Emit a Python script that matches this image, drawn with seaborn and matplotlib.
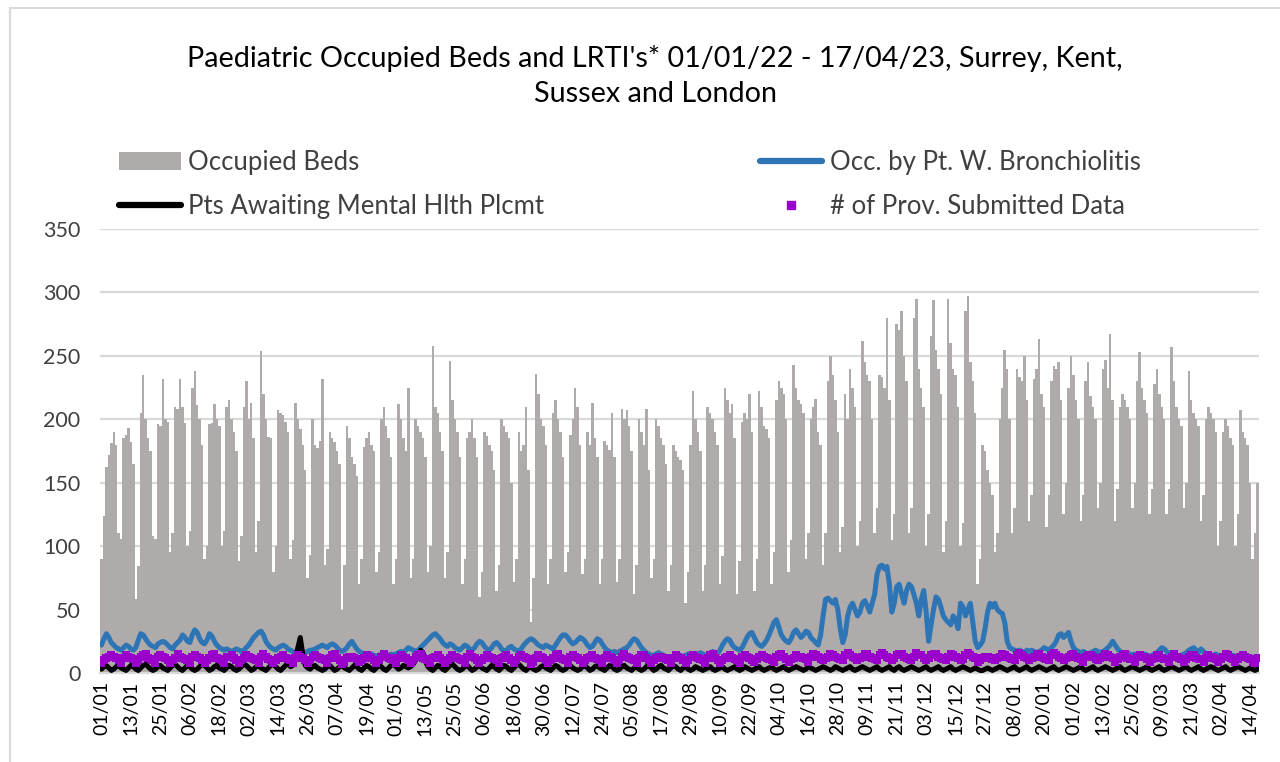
import numpy as np
import pandas as pd
import matplotlib
matplotlib.use("Agg")
import matplotlib.pyplot as plt
from matplotlib.patches import Patch
from matplotlib.lines import Line2D
import seaborn as sns

# ---------------- data (daily, 01/01/22 .. 17/04/23) ----------------
occupied_beds = [
    90, 124, 162, 172, 181, 190, 180,
    110, 106, 185, 188, 193, 182, 165,
    58, 84, 205, 235, 200, 185, 175,
    108, 106, 196, 195, 232, 200, 198,
    95, 110, 210, 208, 232, 210, 197,
    100, 112, 225, 238, 211, 200, 180,
    90, 100, 196, 197, 212, 200, 195,
    100, 112, 210, 215, 200, 190, 175,
    88, 108, 210, 230, 200, 213, 185,
    95, 120, 254, 220, 200, 186, 185,
    80, 100, 207, 205, 203, 198, 190,
    90, 105, 213, 200, 192, 180, 160,
    75, 93, 200, 180, 177, 183, 232,
    85, 98, 190, 185, 182, 175, 165,
    50, 85, 195, 185, 170, 165, 155,
    70, 90, 178, 185, 190, 180, 175,
    80, 95, 200, 210, 195, 185, 170,
    70, 90, 212, 200, 185, 175, 225,
    75, 90, 200, 195, 190, 185, 170,
    80, 100, 258, 210, 205, 190, 175,
    75, 95, 246, 215, 200, 190, 170,
    70, 90, 185, 190, 200, 185, 170,
    60, 80, 190, 187, 180, 175, 160,
    65, 85, 200, 195, 190, 185, 150,
    72, 90, 190, 175, 180, 210, 160,
    40, 75, 236, 220, 200, 195, 180,
    70, 90, 205, 215, 200, 190, 170,
    80, 95, 188, 200, 225, 210, 180,
    78, 90, 190, 180, 213, 185, 170,
    70, 90, 183, 180, 176, 205, 170,
    72, 90, 208, 200, 207, 195, 175,
    62, 85, 200, 190, 180, 208, 160,
    75, 90, 200, 195, 185, 180, 165,
    65, 85, 180, 175, 170, 168, 160,
    55, 80, 180, 222, 200, 190, 175,
    65, 85, 210, 205, 200, 190, 180,
    70, 92, 225, 215, 205, 212, 185,
    62, 88, 198, 205, 200, 220, 190,
    65, 90, 222, 210, 195, 192, 185,
    70, 95, 215, 230, 225, 220, 200,
    80, 105, 243, 225, 215, 212, 205,
    90, 110, 200, 210, 216, 190, 180,
    85, 110, 230, 250, 235, 215, 190,
    95, 115, 220, 200, 240, 225, 210,
    100, 120, 262, 245, 235, 230, 200,
    110, 130, 235, 233, 225, 280, 215,
    105, 125, 275, 270, 285, 250, 230,
    110, 130, 280, 295, 240, 225, 210,
    100, 125, 266, 294, 255, 240, 220,
    95, 120, 295, 260, 240, 235, 210,
    100, 118, 285, 297, 245, 230, 205,
    70, 90, 180, 175, 160, 150, 140,
    95, 110, 200, 225, 255, 240, 200,
    110, 130, 240, 233, 230, 250, 215,
    120, 140, 232, 240, 263, 220, 210,
    115, 140, 230, 242, 240, 245, 215,
    125, 150, 225, 250, 235, 215, 200,
    120, 140, 230, 245, 218, 210, 200,
    130, 150, 240, 247, 225, 267, 215,
    120, 145, 210, 220, 215, 210, 200,
    130, 150, 230, 253, 225, 215, 205,
    125, 145, 228, 240, 220, 210, 200,
    125, 145, 257, 230, 210, 200, 195,
    130, 150, 238, 215, 205, 200, 195,
    120, 140, 200, 210, 205, 200, 190,
    100, 120, 190, 200, 195, 185, 180,
    100, 125, 207, 190, 185, 180, 150,
    90, 110, 150,
]

bronchiolitis = [
    22, 27, 31, 28, 24, 22, 20,
    19, 18, 20, 22, 21, 19, 18,
    20, 26, 31, 30, 27, 24, 22,
    21, 20, 23, 24, 25, 24, 22,
    20, 19, 22, 24, 26, 30, 28,
    25, 24, 30, 34, 32, 27, 24,
    23, 26, 31, 29, 25, 22, 20,
    19, 18, 19, 18, 17, 18, 19,
    18, 17, 18, 20, 22, 25, 28,
    30, 32, 33, 30, 25, 22, 20,
    19, 18, 20, 21, 22, 21, 19,
    18, 17, 16, 15, 14, 15, 16,
    17, 18, 18, 19, 20, 21, 22,
    21, 20, 22, 23, 22, 20, 18,
    17, 18, 20, 23, 25, 22, 19,
    17, 16, 15, 14, 14, 15, 14,
    13, 14, 15, 14, 13, 14, 15,
    14, 15, 16, 17, 16, 18, 20,
    19, 18, 17, 18, 20, 22, 24,
    26, 28, 30, 31, 29, 27, 24,
    22, 21, 23, 22, 20, 19, 18,
    20, 22, 21, 19, 18, 20, 23,
    25, 24, 21, 19, 18, 20, 23,
    24, 22, 19, 17, 18, 20, 21,
    19, 18, 17, 19, 22, 24, 26,
    27, 26, 24, 22, 21, 20, 22,
    21, 20, 19, 22, 25, 28, 30,
    30, 28, 25, 23, 24, 26, 28,
    27, 25, 22, 20, 21, 24, 27,
    26, 23, 20, 18, 17, 16, 17,
    16, 17, 18, 19, 20, 22, 25,
    27, 26, 23, 20, 18, 16, 15,
    14, 14, 15, 16, 15, 14, 13,
    13, 12, 13, 14, 13, 12, 13,
    14, 15, 14, 13, 14, 15, 16,
    15, 14, 13, 15, 17, 16, 15,
    18, 22, 25, 27, 26, 22, 20,
    19, 18, 20, 24, 28, 31, 32,
    28, 24, 22, 21, 23, 26, 30,
    35, 40, 42, 36, 30, 27, 25,
    24, 27, 32, 34, 31, 28, 30,
    33, 32, 28, 26, 24, 22, 30,
    45, 58, 59, 57, 55, 58, 50,
    35, 24, 30, 45, 52, 55, 50,
    45, 48, 55, 57, 53, 48, 55,
    62, 78, 84, 85, 82, 84, 70,
    48, 55, 68, 70, 62, 55, 65,
    70, 68, 62, 55, 45, 58, 65,
    48, 25, 38, 50, 60, 58, 52,
    45, 42, 40, 38, 45, 42, 35,
    55, 52, 45, 50, 55, 40, 25,
    20, 22, 25, 35, 48, 55, 52,
    55, 50, 48, 47, 40, 25, 20,
    19, 18, 17, 18, 17, 16, 18,
    17, 18, 17, 16, 17, 18, 20,
    19, 18, 20, 22, 25, 30, 31,
    28, 30, 32, 25, 20, 18, 17,
    16, 17, 16, 15, 16, 17, 18,
    17, 16, 17, 18, 20, 22, 25,
    22, 19, 17, 16, 15, 16, 15,
    14, 15, 14, 13, 14, 15, 14,
    13, 14, 15, 16, 18, 20, 19,
    17, 15, 14, 15, 14, 13, 14,
    15, 16, 18, 19, 20, 18, 16,
    19, 17, 15, 14, 13, 14, 15,
    14, 13, 14, 13, 12, 13, 14,
    13, 12, 13, 14, 12, 13, 12,
    12, 13, 12,
]

mental_health = [
    3, 5, 6, 4, 2, 3, 5,
    6, 4, 3, 2, 4, 6, 5,
    3, 2, 4, 6, 7, 5, 3,
    2, 3, 5, 6, 4, 3, 2,
    4, 6, 7, 5, 3, 2, 4,
    6, 5, 3, 2, 3, 5, 7,
    6, 4, 2, 3, 5, 6, 4,
    3, 2, 4, 6, 5, 3, 2,
    3, 5, 7, 6, 4, 2, 3,
    5, 6, 4, 3, 2, 4, 6,
    7, 5, 3, 2, 4, 6, 8,
    5, 6, 10, 20, 28, 15, 6,
    4, 3, 5, 6, 4, 3, 2,
    3, 5, 6, 4, 2, 3, 5,
    6, 4, 3, 2, 4, 6, 5,
    3, 2, 4, 6, 5, 3, 2,
    4, 6, 5, 3, 2, 4, 6,
    7, 5, 3, 4, 6, 5, 4,
    5, 7, 10, 15, 18, 16, 9,
    5, 3, 2, 4, 6, 5, 3,
    2, 4, 6, 7, 5, 3, 2,
    3, 5, 6, 4, 2, 3, 5,
    6, 4, 3, 2, 4, 6, 5,
    3, 2, 4, 6, 5, 3, 2,
    4, 6, 7, 5, 3, 2, 4,
    5, 3, 2, 3, 5, 6, 4,
    3, 2, 4, 6, 5, 3, 2,
    3, 5, 6, 4, 3, 2, 3,
    5, 6, 4, 2, 3, 5, 6,
    4, 3, 2, 4, 6, 5, 3,
    2, 3, 5, 6, 4, 3, 2,
    4, 5, 3, 2, 3, 5, 6,
    4, 2, 3, 5, 6, 4, 3,
    2, 4, 6, 5, 3, 2, 4,
    5, 3, 2, 3, 5, 4, 3,
    2, 3, 4, 5, 3, 2, 3,
    4, 5, 3, 2, 3, 4, 5,
    3, 2, 3, 5, 4, 3, 2,
    3, 4, 5, 3, 2, 3, 4,
    5, 3, 2, 3, 4, 5, 3,
    2, 3, 4, 5, 4, 3, 2,
    3, 5, 4, 3, 2, 3, 4,
    5, 4, 3, 2, 3, 5, 4,
    3, 2, 3, 4, 5, 3, 2,
    3, 4, 5, 4, 3, 2, 3,
    4, 5, 3, 2, 3, 4, 5,
    3, 2, 4, 5, 3, 2, 3,
    4, 5, 4, 3, 2, 3, 4,
    5, 3, 2, 3, 4, 5, 3,
    2, 3, 4, 5, 3, 2, 3,
    4, 5, 4, 3, 2, 3, 4,
    3, 2, 2, 3, 4, 3, 2,
    3, 4, 5, 4, 3, 2, 3,
    4, 5, 3, 2, 3, 4, 5,
    3, 2, 3, 4, 5, 4, 3,
    2, 3, 4, 5, 3, 2, 3,
    4, 5, 4, 3, 2, 3, 4,
    5, 3, 2, 3, 4, 5, 3,
    2, 3, 4, 5, 4, 3, 2,
    3, 4, 5, 3, 2, 3, 4,
    5, 4, 3, 2, 3, 4, 5,
    3, 2, 3, 4, 5, 3, 2,
    3, 4, 5, 4, 3, 2, 3,
    4, 5, 3, 2, 3, 4, 5,
    3, 2, 3, 4, 5, 4, 3,
    2, 3, 4, 5, 3, 2, 3,
    4, 5, 4, 3, 2, 3, 4,
    3, 2, 3,
]

providers = [
    8, 10, 12, 13, 14, 13, 12,
    10, 8, 12, 14, 13, 12, 11,
    8, 10, 13, 14, 15, 12, 11,
    10, 8, 13, 14, 13, 12, 10,
    8, 10, 12, 15, 13, 12, 11,
    10, 8, 13, 14, 13, 12, 10,
    8, 10, 12, 14, 15, 12, 11,
    10, 8, 13, 13, 14, 12, 10,
    8, 10, 12, 14, 13, 12, 11,
    10, 8, 13, 15, 13, 11, 10,
    8, 10, 12, 13, 14, 12, 11,
    10, 8, 12, 14, 13, 12, 10,
    8, 10, 13, 14, 13, 12, 11,
    10, 8, 12, 14, 15, 12, 10,
    7, 9, 12, 13, 13, 12, 11,
    9, 10, 12, 14, 13, 12, 10,
    8, 10, 13, 15, 13, 12, 11,
    10, 8, 12, 14, 13, 12, 10,
    8, 10, 13, 14, 15, 12, 11,
    10, 8, 12, 13, 14, 12, 10,
    8, 10, 12, 14, 13, 12, 11,
    10, 8, 13, 15, 13, 12, 10,
    8, 10, 12, 14, 13, 12, 11,
    10, 8, 12, 13, 14, 12, 10,
    8, 10, 13, 14, 13, 12, 11,
    7, 9, 12, 14, 13, 12, 10,
    8, 10, 12, 14, 15, 12, 11,
    10, 8, 13, 14, 13, 12, 10,
    8, 10, 12, 13, 14, 12, 11,
    10, 8, 12, 14, 13, 12, 10,
    8, 10, 13, 15, 13, 12, 11,
    10, 8, 12, 14, 14, 12, 10,
    8, 10, 12, 13, 13, 12, 11,
    10, 8, 12, 14, 13, 12, 10,
    8, 10, 13, 14, 13, 12, 11,
    10, 8, 12, 14, 15, 12, 10,
    8, 10, 12, 13, 14, 12, 11,
    10, 8, 13, 14, 13, 12, 10,
    9, 11, 13, 14, 13, 12, 11,
    10, 9, 13, 14, 15, 13, 11,
    9, 11, 12, 14, 13, 13, 12,
    11, 9, 13, 15, 14, 13, 11,
    10, 12, 13, 15, 14, 13, 12,
    11, 10, 14, 16, 14, 13, 12,
    10, 12, 13, 15, 15, 13, 12,
    11, 10, 14, 16, 14, 13, 12,
    10, 12, 14, 15, 15, 13, 12,
    11, 10, 13, 16, 14, 14, 12,
    10, 12, 14, 15, 15, 13, 12,
    11, 10, 13, 15, 14, 13, 12,
    10, 11, 14, 16, 14, 13, 12,
    9, 10, 12, 13, 13, 12, 11,
    10, 12, 13, 15, 14, 13, 12,
    11, 10, 14, 16, 14, 13, 12,
    10, 12, 13, 15, 15, 13, 12,
    11, 10, 14, 16, 14, 13, 12,
    10, 12, 13, 14, 15, 13, 12,
    11, 9, 13, 14, 14, 13, 11,
    10, 12, 13, 15, 14, 13, 12,
    9, 11, 13, 14, 15, 12, 11,
    11, 9, 13, 14, 13, 13, 11,
    9, 11, 12, 14, 14, 12, 11,
    11, 9, 13, 15, 13, 12, 11,
    9, 11, 13, 14, 14, 12, 11,
    11, 9, 12, 14, 13, 12, 11,
    9, 11, 13, 15, 14, 12, 11,
    9, 11, 13, 14, 13, 12, 11,
    9, 8, 12,
]

tick_labels = ["01/01", "13/01", "25/01", "06/02", "18/02", "02/03", "14/03",
               "26/03", "07/04", "19/04", "01/05", "13/05", "25/05", "06/06",
               "18/06", "30/06", "12/07", "24/07", "05/08", "17/08", "29/08",
               "10/09", "22/09", "04/10", "16/10", "28/10", "09/11", "21/11",
               "03/12", "15/12", "27/12", "08/01", "20/01", "01/02", "13/02",
               "25/02", "09/03", "21/03", "02/04", "14/04"]

title = "Paediatric Occupied Beds and LRTI's* 01/01/22 - 17/04/23, Surrey, Kent,\nSussex and London"

dates = pd.date_range("2022-01-01", "2023-04-17", freq="D")
n = len(dates)
df = pd.DataFrame({
    "day": np.arange(n),
    "beds": occupied_beds[:n],
    "bronch": bronchiolitis[:n],
    "mh": mental_health[:n],
    "prov": providers[:n],
})

# ---------------- style ----------------
sns.set_theme(style="white")
plt.rcParams["font.family"] = ["Lato", "DejaVu Sans"]

C_BEDS = "#AFABAB"
C_BRON = "#2E75B6"
C_MH = "#000000"
C_PROV = "#9900CC"
C_GRID = "#D9D9D9"
C_TEXT = "#404040"

fig = plt.figure(figsize=(12.8, 7.62), dpi=100)
ax = fig.add_axes([100 / 1280, 1 - 673 / 762, 1159 / 1280, (673 - 229) / 762])

ax.bar(df["day"], df["beds"], width=1.0, color=C_BEDS, linewidth=0, zorder=2)
sns.lineplot(data=df, x="day", y="bronch", ax=ax, color=C_BRON, linewidth=3.6, zorder=3)
sns.lineplot(data=df, x="day", y="mh", ax=ax, color=C_MH, linewidth=3.6, zorder=4)
sns.scatterplot(data=df, x="day", y="prov", ax=ax, color=C_PROV, marker="s", s=36,
                linewidth=0, zorder=5)

ax.set_xlim(-0.6, n - 0.4)
ax.set_ylim(0, 350)
ax.set_yticks(np.arange(0, 351, 50))
ax.set_xticks(np.arange(0, n, 12))
ax.set_xticklabels(tick_labels, rotation=90, fontsize=14, color="#000000")
ax.tick_params(axis="y", labelsize=15.5, labelcolor=C_TEXT, length=0, pad=14)
ax.tick_params(axis="x", length=0, pad=6)
ax.set_xlabel("")
ax.set_ylabel("")
ax.yaxis.grid(True, color=C_GRID, linewidth=1.6, zorder=0)
ax.set_axisbelow(True)
for s in ["top", "right", "left"]:
    ax.spines[s].set_visible(False)
ax.spines["bottom"].set_color(C_GRID)
ax.spines["bottom"].set_linewidth(1.6)

fig.text(655 / 1280, 1 - 76 / 762, title, ha="center", va="center", fontsize=20.7,
         color="#000000", linespacing=1.4)

handles = [
    Patch(facecolor=C_BEDS, edgecolor="none"),
    Line2D([], [], color=C_MH, linewidth=4.5, solid_capstyle="round"),
    Line2D([], [], color=C_BRON, linewidth=4.5, solid_capstyle="round"),
    Line2D([], [], color=C_PROV, marker="s", markersize=6, linestyle="none"),
]
labels = ["Occupied Beds", "Pts Awaiting Mental Hlth Plcmt",
          "Occ. by Pt. W. Bronchiolitis", "# of Prov. Submitted Data"]
leg = fig.legend(handles, labels, ncol=2, loc="upper left",
                 bbox_to_anchor=(96 / 1280, 1 - 127 / 762), frameon=False,
                 fontsize=18.5, handlelength=2.4, handletextpad=0.3,
                 columnspacing=8.4, labelspacing=0.75, labelcolor=C_TEXT)

# outer chart border
fig.patches.append(plt.Rectangle((10 / 1280, -0.01), 1.2, 1 - 8 / 762 + 0.01,
                                 transform=fig.transFigure, fill=False,
                                 edgecolor=C_GRID, linewidth=1.5))

fig.savefig("out.png", dpi=100)
